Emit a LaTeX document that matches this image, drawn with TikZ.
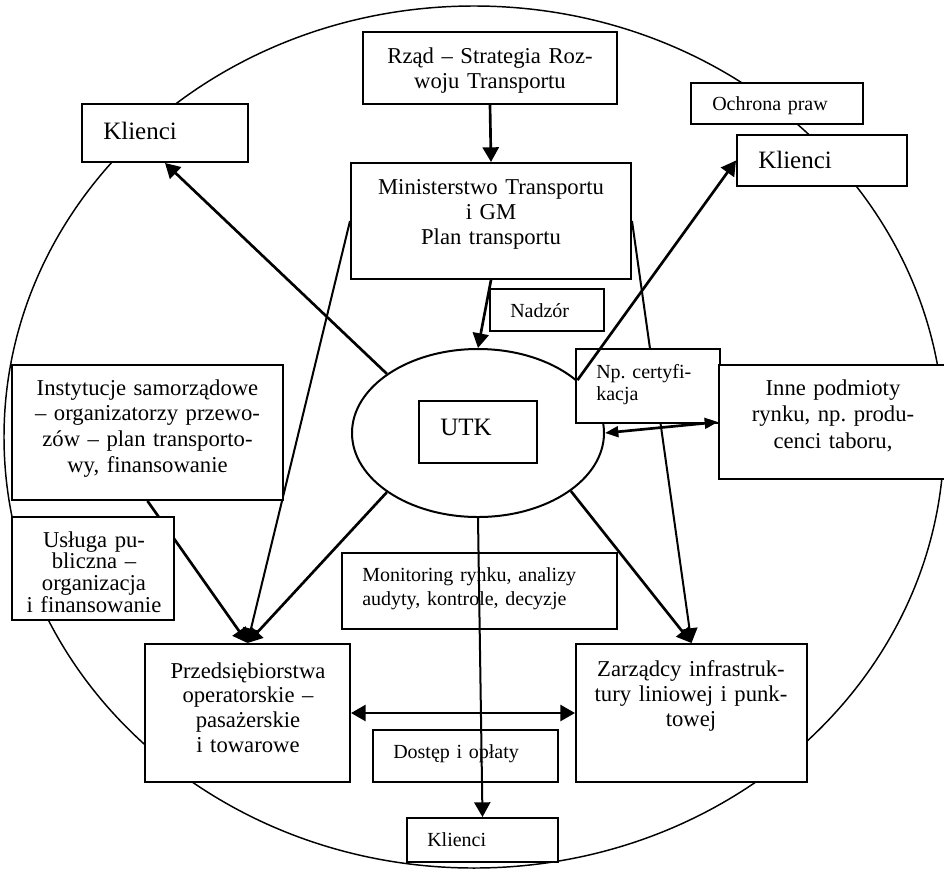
\documentclass[tikz,border=0pt]{standalone}
\usepackage{fontspec}
\setmainfont{Liberation Serif}
\usetikzlibrary{arrows.meta,shapes.geometric,calc}
\pgfdeclarelayer{bg}
\pgfsetlayers{bg,main}
\frenchspacing
\lineskiplimit=-20pt
\newcommand\fbig{\fontsize{17}{19}\selectfont}
\newcommand\fkl{\fontsize{18.75}{20}\selectfont}
\newcommand\fsm{\fontsize{15}{18}\selectfont}
\newcommand\mybox[5]{\node[bx, minimum width={(#4-#2)*0.75pt}, minimum height={(#5-#3)*0.75pt}] (#1) at ({(#2+#4)/2},{(#3+#5)/2}) {};}
\tikzset{
  bx/.style={draw, fill=white, line width=1.5pt, inner sep=0pt},
  tcen/.style={inner sep=0pt, anchor=base, text width=260pt, align=center, font=\fbig},
  tleft/.style={inner sep=0pt, anchor=base west, text width=220pt, align=left, font=\fsm},
  arr/.style={line width=2pt, -{Triangle[length=11pt,width=12pt]}},
  darr/.style={line width=2pt, {Triangle[length=11pt,width=12pt]}-{Triangle[length=11pt,width=12pt]}},
  darrs/.style={line width=2pt, {Triangle[length=10pt,width=8pt]}-{Triangle[length=10pt,width=8pt]}},
}
\begin{document}
\begin{tikzpicture}[x=0.75pt,y=-0.75pt]
\useasboundingbox (0,0) rectangle (944,868);
\clip (0,0) rectangle (944,868);
% boxes
\mybox{rzad}{363}{32}{617}{104}
\mybox{klTL}{82}{104}{248}{162}
\mybox{och}{691}{83}{863}{124}
\mybox{klTR}{737}{135}{907}{186}
\mybox{min}{351}{163}{631}{279}
\mybox{nad}{490}{289}{604}{331}
\node[draw, ellipse, fill=white, line width=1.5pt, inner sep=0pt,
      minimum width=189pt, minimum height=126pt] (utk) at (478,433) {};
\mybox{utkb}{419}{401}{537}{463}
\mybox{np}{576}{349}{720}{423}
\mybox{inne}{719}{365}{947}{479}
\mybox{inst}{12}{365}{283}{500}
\mybox{usl}{12}{517}{174}{620}
\mybox{mon}{342}{553}{617}{629}
\mybox{przeds}{145}{644}{350}{782}
\mybox{zarz}{576}{644}{807}{782}
\mybox{dos}{373}{730}{558}{782}
\mybox{klB}{407}{818}{558}{862}
% texts
\node[tcen, font=\fontsize{17}{18.75}\selectfont] (rzadT) at (490,63) {Rząd – Strategia Roz-\\woju Transportu};
\node[tcen, font=\fontsize{17}{19.1}\selectfont] (minT) at (491,194) {Ministerstwo Transportu\\i GM\\Plan transportu};
\node[tleft, font=\fkl] (klTLT) at (103,139) {Klienci};
\node[tleft] (ochT) at (712,110) {Ochrona praw};
\node[tleft, font=\fkl] (klTRT) at (758,168) {Klienci};
\node[tleft] (nadT) at (510,317) {Nadzór};
\node[tleft, font=\fkl] (utkT) at (440,435) {UTK};
\node[tleft, font=\fontsize{15}{16.5}\selectfont] (npT) at (596,378) {Np. certyfi-\\kacja};
\node[tcen, font=\fontsize{17}{19.9}\selectfont] (inneT) at (833,395) {Inne podmioty\\rynku, np. produ-\\cenci taboru,};
\node[tcen, font=\fontsize{17}{19.3}\selectfont] (instT) at (147.5,395) {Instytucje samorządowe\\– organizatorzy przewo-\\zów – plan transporto-\\wy, finansowanie};
\node[tcen, font=\fontsize{17}{16.3}\selectfont] (uslT) at (94,547) {Usługa pu-\\bliczna –\\organizacja\\i finansowanie};
\node[tcen, font=\fontsize{17}{18.5}\selectfont] (przT) at (248,678) {Przedsiębiorstwa\\operatorskie –\\pasażerskie\\i towarowe};
\node[tcen, font=\fontsize{17}{18.75}\selectfont] (zarT) at (691,676) {Zarządcy infrastruk-\\tury liniowej i punk-\\towej};
\node[tleft] (monT) at (362,581) {Monitoring rynku, analizy\\audyty, kontrole, decyzje};
\node[tleft] (dosT) at (393,758) {Dostęp i opłaty};
\node[tleft] (klBT) at (427,846) {Klienci};
% background: outer circle and lines hidden by boxes
\begin{pgfonlayer}{bg}
\draw[line width=1.1pt] (474,437) ellipse [x radius=470, y radius=431];
\draw[arr, line width=1.5pt] (min.west) -- (przeds.north);
\draw[arr, line width=1.5pt] (min.east) -- (zarz.north);
\draw[arr] (inst.south) -- (przeds.north);
\end{pgfonlayer}
% connectors on top
\draw[arr] (rzad.south) -- (min.north);
\draw[arr] (min.south) -- (utk.north);
\draw[arr] (utk.147) -- (klTL.south);
\draw[arr] (utk.28) -- (klTR.west);
\draw[darrs] (utk.east) -- (inne.west);
\draw[arr] (utk.213) -- (przeds.north);
\draw[arr] (utk.328) -- (zarz.north);
\draw[arr, line width=1.5pt] (utk.south) -- (klB.north);
\draw[darr] (przeds.east) -- (zarz.west);
\end{tikzpicture}
\end{document}
